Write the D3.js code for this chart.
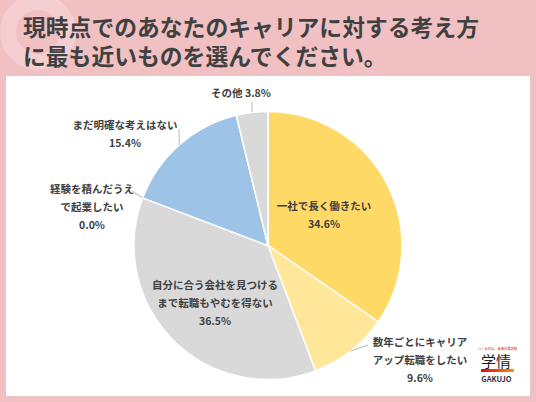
<!DOCTYPE html>
<html>
<head>
<meta charset="utf-8">
<script src="https://cdn.jsdelivr.net/npm/d3@7"></script>
<style>
  body { margin: 0; background: #f1c0c3; }
  svg { display: block; }
  text { font-family: "Noto Sans CJK JP", "Noto Sans", sans-serif; }
</style>
</head>
<body>
<svg width="536" height="402"></svg>
<script>
// Title
const titleLines = ["現時点でのあなたのキャリアに対する考え方", "に最も近いものを選んでください。"]

// Slices, clockwise from 12 o'clock
const categories = [
  "一社で長く働きたい",
  "数年ごとにキャリアアップ転職をしたい",
  "自分に合う会社を見つけるまで転職もやむを得ない",
  "経験を積んだうえで起業したい",
  "まだ明確な考えはない",
  "その他"
]
const labelLines = [
  ["一社で長く働きたい"],
  ["数年ごとにキャリア", "アップ転職をしたい"],
  ["自分に合う会社を見つける", "まで転職もやむを得ない"],
  ["経験を積んだうえ", "で起業したい"],
  ["まだ明確な考えはない"],
  ["その他"]
]
const values = [34.6, 9.6, 36.5, 0.0, 15.4, 3.8]
const colors = ["#ffd966", "#ffe699", "#d9d9d9", "#d9d9d9", "#9dc3e6", "#d9d9d9"]

const svg = d3.select("svg")
const W = 536, H = 402

// Background decoration
svg.append("rect").attr("width", W).attr("height", H).attr("fill", "#f1c0c3")
svg.append("circle")
  .attr("cx", 38).attr("cy", 32).attr("r", 30)
  .attr("fill", "none")
  .attr("stroke", "#ffffff").attr("stroke-opacity", 0.22)
  .attr("stroke-width", 16)

// Title
svg.append("g").selectAll("text")
  .data(titleLines)
  .enter()
  .append("text")
  .attr("x", 23)
  .attr("y", (d, i) => 36 + i * 29)
  .attr("font-size", 22.8)
  .attr("font-weight", 700)
  .attr("fill", "#404040")
  .text(d => d)

// White panel
svg.append("rect")
  .attr("x", 6).attr("y", 76)
  .attr("width", 524).attr("height", 320)
  .attr("fill", "#ffffff")

// Pie
const cx = 268, cy = 245.5, R = 134
const pie = d3.pie().sort(null).value(d => d)
const arcs = pie(values)
const arc = d3.arc().innerRadius(0).outerRadius(R)

const g = svg.append("g").attr("transform", `translate(${cx},${cy})`)

g.selectAll("path")
  .data(arcs)
  .enter()
  .append("path")
  .attr("d", arc)
  .attr("fill", (d, i) => colors[i])
  .attr("stroke", "#ffffff")
  .attr("stroke-width", 1.5)

// Label placement relative to the pie centre (x = centre of text block, y = first baseline)
const labelLayout = [
  { dx: 56, dy: -35.5 },
  { dx: 152, dy: 100.5, lead: [100, 99.5] },
  { dx: -53, dy: 43.5 },
  { dx: -176, dy: -52.5, lead: [-136, -54.5] },
  { dx: -143, dy: -116.5, lead: [-89, -116.5] },
  { dx: -27, dy: -148.5, lead: [-16, -143.5], inline: true }
]

const fmt = v => v.toFixed(1) + "%"

// Leader lines
arcs.forEach((d, i) => {
  const L = labelLayout[i]
  if (!L.lead) return
  const a = (d.startAngle + d.endAngle) / 2
  const p = [R * Math.sin(a), -R * Math.cos(a)]
  g.append("line")
    .attr("x1", p[0]).attr("y1", p[1])
    .attr("x2", L.lead[0]).attr("y2", L.lead[1])
    .attr("stroke", "#a6a6a6")
    .attr("stroke-width", 0.8)
})

// Labels
arcs.forEach((d, i) => {
  const L = labelLayout[i]
  let lines = labelLines[i].slice()
  if (L.inline) lines[lines.length - 1] += " " + fmt(values[i])
  else lines.push(fmt(values[i]))
  g.append("g").selectAll("text")
    .data(lines)
    .enter()
    .append("text")
    .attr("x", L.dx)
    .attr("y", (t, j) => L.dy + j * 18)
    .attr("text-anchor", "middle")
    .attr("font-size", 10.5)
    .attr("font-weight", 700)
    .attr("fill", "#404040")
    .text(t => t)
})

// Logo
const logo = svg.append("g").attr("transform", "translate(481,0)")
logo.append("text")
  .attr("x", 16.5).attr("y", 350)
  .attr("text-anchor", "middle")
  .attr("font-size", 3.3)
  .attr("fill", "#e60012")
  .text("つくるのは、未来の選択肢")
logo.append("text")
  .attr("x", 15).attr("y", 367)
  .attr("text-anchor", "middle")
  .attr("font-size", 15)
  .attr("fill", "#222222")
  .text("学情")
const grad = svg.append("defs").append("linearGradient").attr("id", "lg")
grad.append("stop").attr("offset", "0%").attr("stop-color", "#e60012")
grad.append("stop").attr("offset", "100%").attr("stop-color", "#f39800")
logo.append("rect")
  .attr("x", 0).attr("y", 369)
  .attr("width", 33).attr("height", 3)
  .attr("fill", "url(#lg)")
logo.append("text")
  .attr("x", 15.5).attr("y", 382)
  .attr("text-anchor", "middle")
  .attr("font-size", 7.5)
  .attr("font-weight", 700)
  .attr("fill", "#333333")
  .text("GAKUJO")
</script>
</body>
</html>
